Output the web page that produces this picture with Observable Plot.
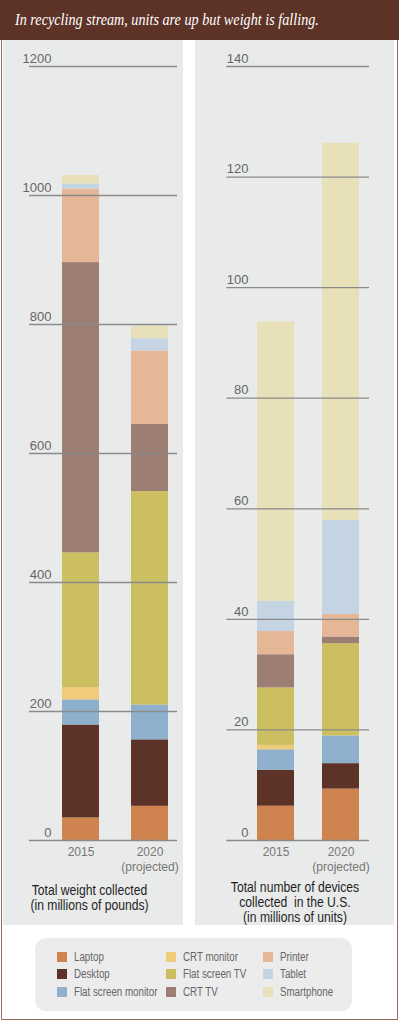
<!DOCTYPE html>
<html><head><meta charset="utf-8">
<script src="https://cdn.jsdelivr.net/npm/d3@7"></script>
<script src="https://cdn.jsdelivr.net/npm/@observablehq/plot@0.6"></script>
<style>
body{margin:0;background:#fff;}
#page{position:relative;width:399px;height:1024px;overflow:hidden;font-family:"Liberation Sans",Arial,sans-serif;background:#fff;}
#frame{position:absolute;left:1px;top:0;width:395px;height:1019px;border-left:1px solid #9a6b61;border-right:1px solid #9a6b61;border-bottom:1px solid #9a6b61;}
#titlebar{position:absolute;left:0;top:0;width:399px;height:40px;background:#5d3328;}
#title{position:absolute;left:15px;top:10px;white-space:nowrap;color:#fff;font-family:"Liberation Serif","Times New Roman",serif;font-style:italic;font-size:16.5px;transform:scaleX(0.86);transform-origin:left center;}
.panel{position:absolute;top:40px;height:885px;background:#e9eaea;}
.chart{position:absolute;top:40px;}
.atitle{position:absolute;text-align:center;font-family:"Liberation Sans",Arial,sans-serif;font-size:15px;line-height:15px;color:#1e1e1e;white-space:nowrap;transform:scaleX(0.81);transform-origin:center top;}
#legend{position:absolute;left:35px;top:938px;width:317px;height:73px;border-radius:11px;background:#ececec;}
.sw{position:absolute;width:10px;height:10px;}
.lt{position:absolute;font-family:"Liberation Sans",Arial,sans-serif;font-size:12.5px;color:#666;white-space:nowrap;line-height:12px;transform:scaleX(0.78);transform-origin:left center;}
</style></head><body>
<div id="page">
  <div id="frame"></div>
  <div id="titlebar"><div id="title">In recycling stream, units are up but weight is falling.</div></div>
  <div class="panel" style="left:3px;width:180px;"></div>
  <div class="panel" style="left:195px;width:199px;"></div>
  <div class="chart" id="left" style="left:3px;"></div>
  <div class="chart" id="right" style="left:195px;"></div>
  <div class="atitle" style="left:0px;width:179px;top:882px;">Total weight collected<br>(in millions of pounds)</div>
  <div class="atitle" style="left:205px;width:180px;top:878.5px;">Total number of devices<br>collected&nbsp; in the U.S.<br>(in millions of units)</div>
  <div id="legend"></div>
</div>
<script>
const categories = ["Laptop","Desktop","Flat screen monitor","CRT monitor","Flat screen TV","CRT TV","Printer","Tablet","Smartphone"];
const colors = ["#cf8450","#5d3327","#8fb0cc","#f0cb7a","#cbbf62","#9c7f72","#e5b797","#c5d4e3","#e8e0b9"];
const years = ["2015","2020"];
const yearLabels = ["2015","2020\n(projected)"];
// Total weight collected (millions of pounds)
const weight2015 = [35,144,39,19,209,450,114,8,13];
const weight2020 = [53,103,54,0,331,104,114,19,19];
// Total number of devices (millions of units)
const units2015 = [6.2,6.5,3.7,0.8,10.4,6.0,4.2,5.5,50.5];
const units2020 = [9.3,4.6,5.0,0,16.7,1.2,4.1,17.0,68.2];
const weightTicks = [0,200,400,600,800,1000,1200];
const unitTicks = [0,20,40,60,80,100,120,140];

function chart(o){
  const data = [];
  years.forEach((yr,j)=>categories.forEach((c,i)=>data.push({year:yr,category:c,value:o.values[j][i]})));
  return Plot.plot({
    width:o.width, height:885, marginTop:26, marginBottom:85,
    marginLeft:o.marginLeft, marginRight:o.marginRight,
    style:{background:"transparent",overflow:"visible",fontFamily:"Liberation Sans, Arial, sans-serif",fontSize:"12px"},
    x:{domain:years, paddingInner:o.paddingInner, paddingOuter:0, axis:null},
    y:{domain:[0,o.yMax], axis:null},
    color:{domain:categories, range:colors},
    marks:[
      Plot.barY(data,{x:"year",y:"value",fill:"category"}),
      Plot.ruleY(o.ticks,{stroke:"#8a8a8a",strokeWidth:1.3,insetLeft:o.gl,insetRight:o.gr}),
      Plot.text(o.ticks,{y:d=>d,text:d=>String(d),frameAnchor:"left",textAnchor:"end",dx:o.dx,dy:-8,fontSize:13,fill:"#666"}),
      Plot.axisX({tickSize:0,tickPadding:6,label:null,fill:"#777",lineHeight:1.17,tickFormat:d=>yearLabels[years.indexOf(d)]})
    ]
  });
}
document.getElementById("left").append(chart({values:[weight2015,weight2020],ticks:weightTicks,yMax:1200,width:180,marginLeft:58.7,marginRight:15,paddingInner:0.468,gl:-32.7,gr:-9,dx:-10.7}));
document.getElementById("right").append(chart({values:[units2015,units2020],ticks:unitTicks,yMax:140,width:199,marginLeft:61.7,marginRight:35.3,paddingInner:0.431,gl:-30.4,gr:-10.3,dx:-8.7}));

const leg = document.getElementById("legend");
const colX = [22,130.7,228.3];
categories.forEach((c,i)=>{
  const col = Math.floor(i/3), row = i%3;
  const sw = document.createElement("div");
  sw.className="sw"; sw.style.left=colX[col]+"px"; sw.style.top=(14+17.3*row)+"px"; sw.style.background=colors[i];
  leg.append(sw);
  const t = document.createElement("div");
  t.className="lt"; t.style.left=(colX[col]+17)+"px"; t.style.top=(13+17.3*row)+"px"; t.textContent=c;
  leg.append(t);
});
</script>
</body></html>
